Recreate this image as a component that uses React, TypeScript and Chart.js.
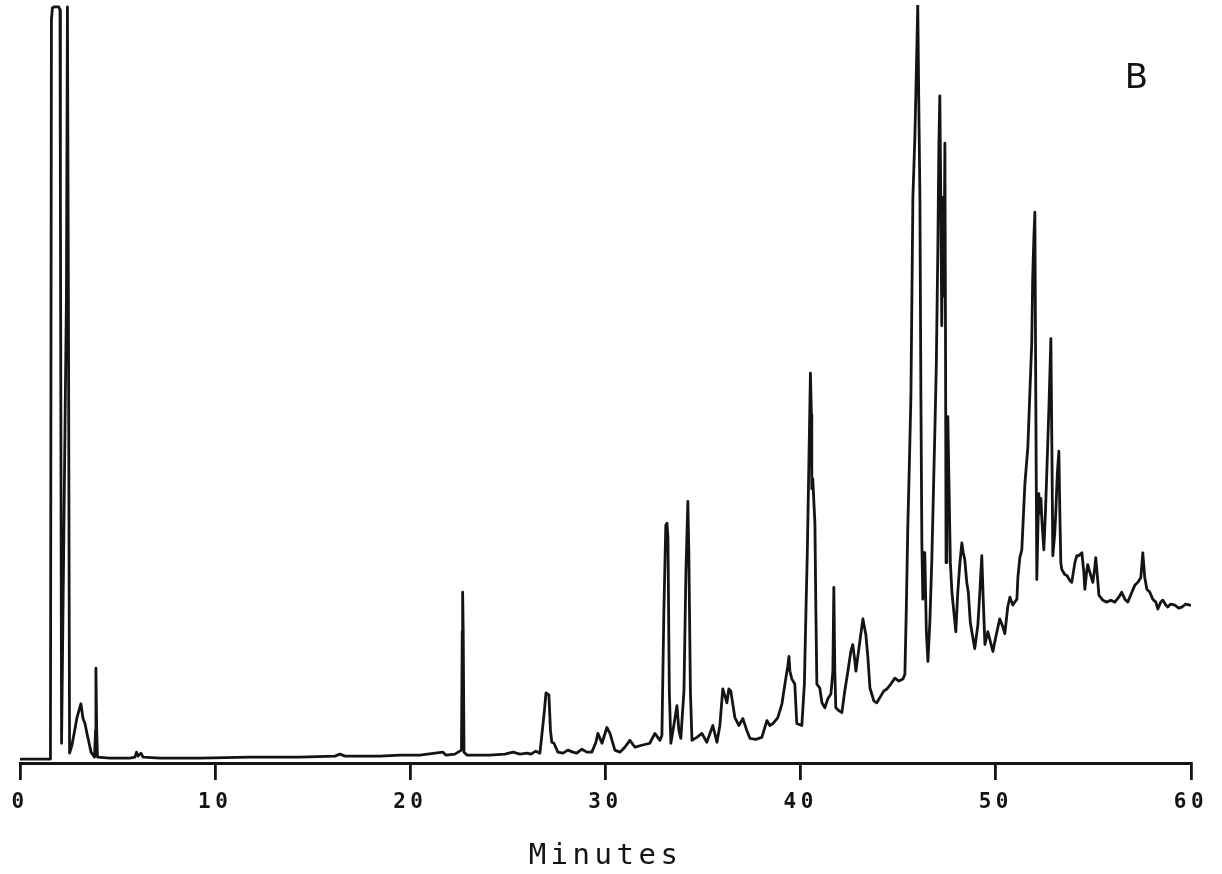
import React, { useEffect, useRef } from "react";
import { Chart, registerables } from "chart.js";

Chart.register(...registerables);

// Retention time (minutes)
const TIME_MIN = [
  0.0, 1.56, 1.61, 1.66, 1.74, 1.99, 2.05, 2.07, 2.13, 2.15,
  2.38, 2.43, 2.48, 2.54, 2.66, 2.82, 2.92, 3.02, 3.12, 3.23,
  3.33, 3.43, 3.53, 3.64, 3.82, 3.87, 3.89, 3.93, 3.97, 4.61,
  5.64, 5.89, 5.97, 6.05, 6.2, 6.3, 7.17, 9.22, 11.78, 14.34,
  16.14, 16.39, 16.65, 18.44, 19.47, 20.49, 21.67, 21.82, 22.28, 22.62,
  22.66, 22.68, 22.71, 22.75, 22.9, 24.08, 24.85, 25.26, 25.61, 25.97,
  26.18, 26.43, 26.64, 26.87, 26.95, 27.1, 27.18, 27.25, 27.36, 27.56,
  27.82, 28.07, 28.33, 28.53, 28.79, 29.05, 29.3, 29.51, 29.61, 29.82,
  30.07, 30.23, 30.48, 30.74, 30.99, 31.25, 31.51, 31.86, 32.27, 32.53,
  32.79, 32.89, 32.99, 33.09, 33.15, 33.2, 33.27, 33.35, 33.5, 33.66,
  33.76, 33.86, 34.02, 34.12, 34.22, 34.27, 34.35, 34.43, 34.68, 34.94,
  35.19, 35.5, 35.71, 35.86, 36.01, 36.12, 36.22, 36.32, 36.42, 36.63,
  36.83, 37.04, 37.24, 37.4, 37.7, 38.01, 38.27, 38.42, 38.58, 38.83,
  39.04, 39.24, 39.34, 39.4, 39.45, 39.55, 39.7, 39.8, 40.06, 40.19,
  40.27, 40.34, 40.42, 40.5, 40.55, 40.57, 40.62, 40.68, 40.73, 40.78,
  40.83, 40.98, 41.09, 41.24, 41.39, 41.55, 41.65, 41.7, 41.75, 41.8,
  41.96, 42.11, 42.26, 42.42, 42.57, 42.67, 42.78, 42.83, 42.93, 43.03,
  43.19, 43.34, 43.44, 43.55, 43.75, 43.9, 44.11, 44.26, 44.42, 44.62,
  44.83, 45.03, 45.24, 45.34, 45.41, 45.49, 45.57, 45.65, 45.7, 45.75,
  45.85, 45.93, 46.0, 46.05, 46.11, 46.16, 46.21, 46.26, 46.31, 46.36,
  46.44, 46.52, 46.62, 46.72, 46.8, 46.88, 46.95, 47.03, 47.08, 47.13,
  47.18, 47.23, 47.29, 47.34, 47.39, 47.42, 47.45, 47.49, 47.54, 47.59,
  47.67, 47.75, 47.85, 47.95, 48.05, 48.16, 48.26, 48.33, 48.41, 48.51,
  48.59, 48.69, 48.77, 48.92, 49.08, 49.18, 49.28, 49.36, 49.44, 49.59,
  49.72, 49.85, 50.0, 50.2, 50.36, 50.46, 50.61, 50.72, 50.87, 50.97,
  51.08, 51.13, 51.23, 51.33, 51.49, 51.64, 51.74, 51.84, 51.89, 51.95,
  52.0, 52.05, 52.1, 52.15, 52.2, 52.25, 52.31, 52.36, 52.46, 52.54,
  52.61, 52.72, 52.82, 52.87, 52.92, 53.02, 53.07, 53.15, 53.23, 53.28,
  53.33, 53.38, 53.53, 53.64, 53.79, 53.89, 54.05, 54.15, 54.25, 54.41,
  54.51, 54.56, 54.66, 54.71, 54.82, 54.97, 55.07, 55.12, 55.23, 55.28,
  55.48, 55.69, 55.89, 56.1, 56.3, 56.45, 56.61, 56.76, 56.97, 57.12,
  57.27, 57.43, 57.53, 57.63, 57.74, 57.89, 58.04, 58.2, 58.3, 58.45,
  58.56, 58.71, 58.81, 58.96, 59.17, 59.37, 59.53, 59.73, 59.94,
];

// Detector response (arbitrary units, full scale = 768)
const SIGNAL = [
  4, 4, 753, 765, 766, 766, 763, 573, 20, 20,
  473, 766, 473, 10, 18, 35, 46, 53, 60, 45,
  40, 30, 21, 11, 6, 33, 96, 33, 6, 5,
  5, 6, 11, 7, 10, 6, 5, 5, 6, 6,
  7, 9, 7, 7, 8, 8, 11, 8, 9, 13,
  133, 173, 133, 11, 8, 8, 9, 11, 9, 10,
  9, 12, 10, 53, 71, 69, 33, 21, 20, 11,
  10, 13, 11, 10, 14, 11, 11, 21, 30, 20,
  36, 30, 13, 11, 16, 23, 16, 18, 20, 30,
  23, 28, 153, 241, 243, 228, 73, 20, 38, 58,
  33, 25, 73, 193, 265, 213, 73, 23, 26, 30,
  21, 38, 21, 38, 75, 68, 61, 75, 73, 46,
  38, 45, 33, 25, 24, 26, 43, 38, 40, 46,
  60, 86, 98, 108, 93, 85, 80, 40, 38, 80,
  153, 213, 303, 395, 353, 278, 288, 263, 243, 153,
  80, 76, 61, 56, 65, 70, 93, 178, 93, 56,
  53, 51, 73, 93, 113, 120, 103, 93, 108, 123,
  146, 130, 108, 76, 63, 61, 68, 73, 75, 80,
  86, 83, 85, 90, 153, 240, 303, 373, 473, 573,
  633, 703, 768, 673, 573, 373, 223, 166, 213, 213,
  133, 103, 143, 206, 273, 340, 403, 523, 623, 676,
  573, 443, 573, 473, 628, 443, 203, 273, 351, 293,
  203, 173, 153, 133, 173, 203, 223, 213, 206, 183,
  173, 143, 133, 116, 140, 173, 210, 163, 120, 133,
  123, 113, 128, 146, 138, 131, 158, 168, 160, 163,
  166, 188, 208, 216, 283, 320, 373, 426, 493, 533,
  558, 360, 186, 233, 273, 253, 268, 246, 216, 253,
  293, 360, 430, 323, 210, 233, 253, 293, 316, 253,
  203, 196, 191, 190, 185, 183, 203, 210, 210, 213,
  193, 176, 195, 201, 193, 183, 198, 208, 183, 170,
  165, 163, 165, 163, 168, 173, 166, 163, 173, 180,
  183, 188, 213, 188, 176, 173, 166, 163, 156, 163,
  165, 160, 158, 161, 160, 157, 158, 161, 160,
];

const X_TICKS = [0, 10, 20, 30, 40, 50, 60];
const X_TITLE = "Minutes";
const PANEL_LABEL = "B";
const PANEL_LABEL_TIME = 57.2;
const PANEL_LABEL_SIGNAL = 693;

const INK = "#141414";
const MONO = "'DejaVu Sans Mono', monospace";

export default function App() {
  const ref = useRef<HTMLCanvasElement>(null);

  useEffect(() => {
    document.body.style.margin = "0";
    const canvas = ref.current;
    if (!canvas) return;

    const textPlugin = {
      id: "plotterText",
      beforeDraw(c: any) {
        c.ctx.letterSpacing = "4.5px";
      },
      afterDraw(c: any) {
        const ctx = c.ctx;
        ctx.letterSpacing = "0px";
        const xs = c.scales.x;
        const ys = c.scales.y;
        ctx.save();
        ctx.fillStyle = INK;
        ctx.font = "34px 'DejaVu Sans', sans-serif";
        ctx.textAlign = "center";
        ctx.textBaseline = "middle";
        ctx.fillText(
          PANEL_LABEL,
          xs.getPixelForValue(PANEL_LABEL_TIME),
          ys.getPixelForValue(PANEL_LABEL_SIGNAL)
        );
        ctx.restore();
      },
    };

    const chart = new Chart(canvas, {
      type: "line",
      data: {
        datasets: [
          {
            data: TIME_MIN.map((t, i) => ({ x: t, y: SIGNAL[i] })),
            borderColor: INK,
            borderWidth: 2.8,
            borderJoinStyle: "round",
            borderCapStyle: "round",
            pointRadius: 0,
            tension: 0,
            fill: false,
          },
        ],
      },
      options: {
        animation: false,
        responsive: false,
        devicePixelRatio: 1,
        layout: { padding: { left: 20, right: 31, top: 5, bottom: 0 } },
        plugins: {
          legend: { display: false },
          tooltip: { enabled: false },
        },
        scales: {
          x: {
            type: "linear",
            min: 0,
            max: 60,
            afterBuildTicks: (s: any) => {
              s.ticks = X_TICKS.map((v) => ({ value: v }));
            },
            grid: {
              display: true,
              drawOnChartArea: false,
              drawTicks: true,
              tickLength: 17,
              color: INK,
              lineWidth: 2.8,
            },
            border: { display: true, color: INK, width: 3 },
            ticks: {
              color: INK,
              font: { family: MONO, size: 21, weight: "bold" },
              padding: 10,
              maxRotation: 0,
              autoSkip: false,
            },
            title: {
              display: true,
              text: X_TITLE,
              color: INK,
              font: { family: MONO, size: 29, weight: "normal" },
              padding: { top: 14, bottom: 0 },
            },
          },
          y: { type: "linear", display: false, min: 0, max: 768 },
        },
      },
      plugins: [textPlugin],
    } as any);

    return () => chart.destroy();
  }, []);

  return (
    <div style={{ width: 1222, height: 874, background: "#fff" }}>
      <canvas ref={ref} width={1222} height={874} style={{ display: "block" }} />
    </div>
  );
}
